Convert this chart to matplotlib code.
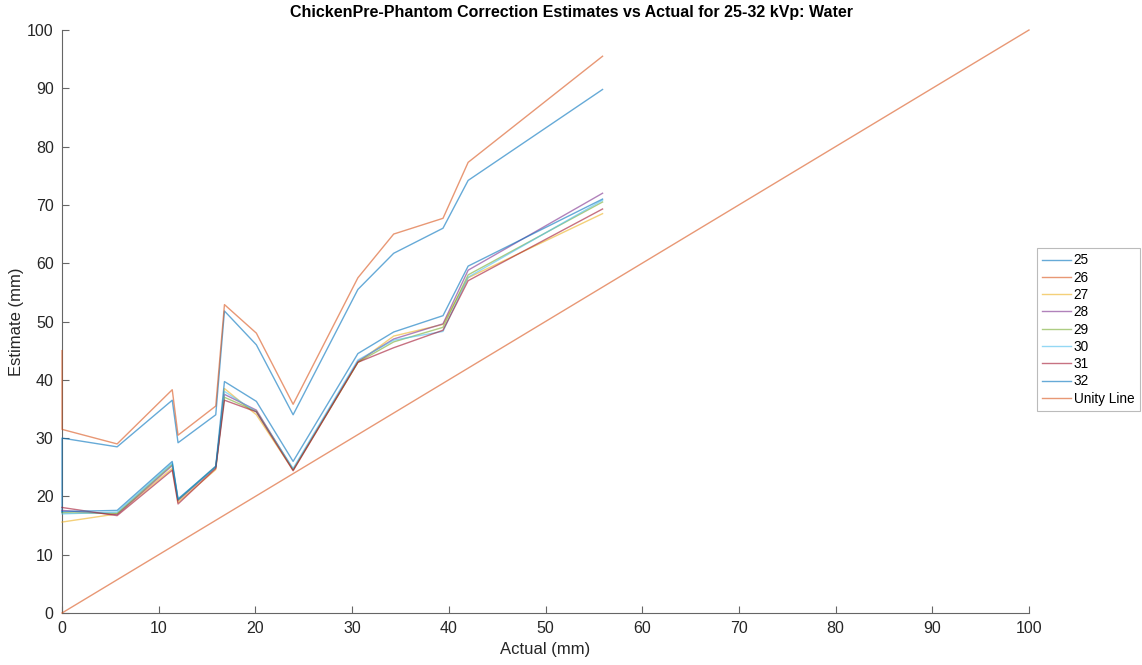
import matplotlib.pyplot as plt
import numpy as np

plt.rcParams['font.family'] = ['Liberation Sans', 'DejaVu Sans']

# actual thickness (mm), shared by every kVp series
actual = [0, 5.7, 11.4, 12.0, 15.9, 16.8, 20.1, 23.9, 30.6, 34.3, 39.4, 42.0, 55.9]

# estimates per kVp
est_25 = [30.0, 28.5, 36.5, 29.2, 34.0, 51.8, 46.0, 34.0, 55.5, 61.7, 66.0, 74.2, 89.8]
est_26 = [31.5, 29.0, 38.3, 30.5, 35.5, 52.9, 48.0, 35.8, 57.5, 65.0, 67.7, 77.3, 95.5]
est_27 = [15.6, 17.0, 24.8, 19.0, 24.6, 38.5, 34.0, 24.5, 43.0, 47.5, 49.5, 57.5, 68.5]
est_28 = [17.6, 16.9, 25.3, 19.3, 25.0, 37.5, 34.8, 24.6, 43.2, 47.0, 49.6, 58.8, 72.0]
est_29 = [17.2, 17.1, 25.5, 19.4, 25.1, 37.0, 34.6, 24.6, 43.0, 46.5, 49.0, 58.0, 70.5]
est_30 = [17.0, 17.3, 25.7, 19.6, 25.0, 38.0, 34.5, 24.8, 43.4, 46.8, 48.3, 57.6, 70.8]
est_31 = [18.1, 16.7, 24.5, 18.7, 24.8, 36.5, 34.5, 24.4, 43.0, 45.5, 48.5, 57.0, 69.3]
est_32 = [17.4, 17.6, 26.0, 19.5, 25.2, 39.7, 36.3, 26.0, 44.5, 48.2, 51.0, 59.5, 71.0]

# first reading of the two upper series starts off-scale at x=0
start_25 = 17.3
start_26 = 45.0

labels = ['25', '26', '27', '28', '29', '30', '31', '32']
unity = [0, 100]

colors = ['#0072BD', '#D95319', '#EDB120', '#7E2F8E', '#77AC30', '#4DBEEE', '#A2142F', '#0072BD']

fig = plt.figure(figsize=(11.42, 6.65), dpi=100)
ax = fig.add_axes([62 / 1142, 1 - 613 / 665, (1029 - 62) / 1142, (613 - 30) / 665])

series = [est_25, est_26, est_27, est_28, est_29, est_30, est_31, est_32]
for i, s in enumerate(series):
    x = list(actual)
    y = list(s)
    if i == 0:
        x = [0] + x
        y = [start_25] + y
    elif i == 1:
        x = [0] + x
        y = [start_26] + y
    ax.plot(x, y, color=colors[i], lw=1.0, alpha=0.6, label=labels[i], clip_on=False, zorder=3)

ax.plot(unity, unity, color='#D95319', lw=1.0, alpha=0.6, label='Unity Line', clip_on=False, zorder=3)

ax.set_xlim(0, 100)
ax.set_ylim(0, 100)
ax.set_xticks(np.arange(0, 101, 10))
ax.set_yticks(np.arange(0, 101, 10))
for side in ['top', 'right']:
    ax.spines[side].set_visible(False)
for side in ['left', 'bottom']:
    ax.spines[side].set_color('#666666')
    ax.spines[side].set_linewidth(0.8)
    ax.spines[side].set_zorder(1)
ax.tick_params(direction='in', length=5, width=0.8, colors='#666666', labelcolor='#262626',
               labelsize=11.5, pad=6)

ax.set_xlabel('Actual (mm)', fontsize=12, color='#262626', labelpad=4)
ax.set_ylabel('Estimate (mm)', fontsize=12, color='#262626', labelpad=2)
fig.text(0.5, 1 - 12 / 665, 'ChickenPre-Phantom Correction Estimates vs Actual for 25-32 kVp: Water',
         ha='center', va='center', fontsize=11.5, fontweight='bold', color='black')

leg = ax.legend(loc='upper left', bbox_to_anchor=(1037 / 1142, 1 - 248 / 665),
                bbox_transform=fig.transFigure, fontsize=9.8, frameon=True, fancybox=False,
                handlelength=2.1, handletextpad=0.2, labelspacing=0.24, borderpad=0.4,
                borderaxespad=0)
leg.get_frame().set_edgecolor('#aaaaaa')
leg.get_frame().set_linewidth(0.8)

fig.savefig('out.png', dpi=100)
